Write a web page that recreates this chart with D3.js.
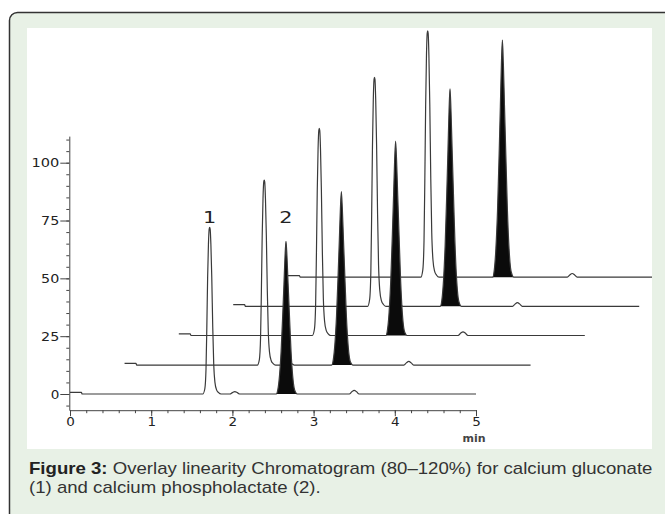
<html>
<head>
<title>Overlay linearity chromatogram</title>
<script src="https://d3js.org/d3.v7.min.js"></script>
<style>
	body { margin: 0; background: #fff; }
	.axis path, .axis line { stroke: #444; stroke-width: 1; }
	.axis text { font-family: "DejaVu Sans", Verdana, sans-serif; font-size: 12.5px; fill: #222; }
</style>
</head>
<body>
<svg id="chart" width="665" height="514"></svg>
<script>
// ---- data ----
const timeTicks = [0, 1, 2, 3, 4, 5];            // min
const valueTicks = [0, 25, 50, 75, 100];
const runLength = 5;                              // each run spans 0-5 min

// each overlaid run is shifted right / up
const traceShiftMin = [0, 0.672, 1.34, 2.01, 2.685];
const traceShiftVal = [0, 12.5, 25.3, 37.9, 50.5];

// peak 1 (calcium gluconate), open peak
const peak1Time = [1.72, 1.72, 1.73, 1.74, 1.72];
const peak1Height = [72, 80, 89.5, 99, 106.5];
// peak 2 (calcium phospholactate), filled peak
const peak2Time = [2.66, 2.67, 2.67, 2.67, 2.64];
const peak2Height = [66, 75, 84, 94, 102.5];

// peak outlines: [min from apex, fraction of apex height]
const peak1Shape = [[-0.085, 0], [-0.06, 0.03], [-0.045, 0.15], [-0.035, 0.4], [-0.025, 0.7],
	[-0.015, 0.9], [-0.006, 0.99], [0, 1], [0.006, 0.99], [0.015, 0.9], [0.026, 0.7],
	[0.038, 0.4], [0.05, 0.18], [0.065, 0.07], [0.085, 0.025], [0.11, 0.008], [0.14, 0]];
const peak2Shape = [[-0.12, 0], [-0.1, 0.03], [-0.08, 0.12], [-0.06, 0.28], [-0.04, 0.52],
	[-0.025, 0.72], [-0.012, 0.9], [0, 1], [0.012, 0.9], [0.026, 0.72], [0.042, 0.52],
	[0.062, 0.28], [0.082, 0.12], [0.1, 0.04], [0.12, 0.01], [0.14, 0]];

// small baseline blips
const bumpTime = [2.03, 3.5];
const bumpHeight = [1.0, 1.6];
const bumpShape = [[-0.06, 0], [-0.03, 0.6], [0, 1], [0.03, 0.6], [0.06, 0]];
// injection step at the start of each run
const startStep = [[0, 0.7], [0.14, 0.7], [0.15, 0]];

const peakLabels = ["1", "2"];
const captionBold = "Figure 3:";
const captionLine1 = " Overlay linearity Chromatogram (80\u2013120%) for calcium gluconate";
const captionLine2 = "(1) and calcium phospholactate (2).";

// ---- layout ----
const svg = d3.select("#chart");

svg.append("rect")
	.attr("x", 9.5).attr("y", 12.5)
	.attr("width", 720).attr("height", 560)
	.attr("rx", 8)
	.attr("fill", "#e8f1e6")
	.attr("stroke", "#333")
	.attr("stroke-width", 1.5);

svg.append("rect")
	.attr("x", 27).attr("y", 28)
	.attr("width", 625).attr("height", 421)
	.attr("fill", "#fff");

svg.append("clipPath").attr("id", "plotclip")
	.append("rect")
	.attr("x", 27).attr("y", 28)
	.attr("width", 625).attr("height", 421);

var x = d3.scaleLinear().domain([0, 5]).range([70, 476]);
var y = d3.scaleLinear().domain([0, 100]).range([394, 162.7]);

// build one run as [t, value] points
function buildTrace(i) {
	var pts = [];
	startStep.forEach(function(p) { pts.push([p[0], p[1]]); });
	var feats = [
		{ t: peak1Time[i], h: peak1Height[i], shape: peak1Shape },
		{ t: bumpTime[0], h: bumpHeight[0], shape: bumpShape },
		{ t: peak2Time[i], h: peak2Height[i], shape: peak2Shape },
		{ t: bumpTime[1], h: bumpHeight[1], shape: bumpShape }
	];
	feats.forEach(function(f) {
		f.shape.forEach(function(s) { pts.push([f.t + s[0], f.h * s[1]]); });
	});
	pts.push([runLength, 0]);
	return pts.map(function(p) { return [p[0] + traceShiftMin[i], p[1] + traceShiftVal[i]]; });
}

var line = d3.line()
	.x(function(d) { return x(d[0]); })
	.y(function(d) { return y(d[1]); })
	.curve(d3.curveMonotoneX);

var plot = svg.append("g").attr("clip-path", "url(#plotclip)");

// back runs first so the front ones sit on top
d3.range(traceShiftMin.length).reverse().forEach(function(i) {
	var base = traceShiftVal[i];
	var filled = peak2Shape.map(function(s) {
		return [peak2Time[i] + s[0] + traceShiftMin[i], base + peak2Height[i] * s[1]];
	});
	plot.append("path")
		.datum(filled)
		.attr("fill", "#0b0b0b")
		.attr("d", d3.area()
			.x(function(d) { return x(d[0]); })
			.y0(y(base))
			.y1(function(d) { return y(d[1]); })
			.curve(d3.curveMonotoneX));
	plot.append("path")
		.datum(buildTrace(i))
		.attr("fill", "none")
		.attr("stroke", "#3a3a3a")
		.attr("stroke-width", 1.2)
		.attr("d", line);
});

// ---- axes ----
var yAx = d3.scaleLinear().domain([-7, 111.5]).range([y(-7), y(111.5)]);

svg.append("g").attr("class", "axis")
	.attr("transform", "translate(69.3,0)")
	.call(d3.axisLeft(yAx).tickValues(d3.range(-5, 111, 5)).tickSize(3).tickSizeOuter(0).tickFormat(""));
var yMajor = svg.append("g").attr("class", "axis")
	.attr("transform", "translate(69.3,0)")
	.call(d3.axisLeft(yAx).tickValues(valueTicks).tickSize(9).tickPadding(1).tickSizeOuter(0)
		.tickFormat(d3.format("d")));
yMajor.select(".domain").remove();

var xAxisY = y(-7);
svg.append("g").attr("class", "axis")
	.attr("transform", "translate(0," + xAxisY + ")")
	.call(d3.axisBottom(x).tickValues(d3.range(0, 5.01, 0.2)).tickSize(3).tickSizeOuter(0).tickFormat(""));
var xMajor = svg.append("g").attr("class", "axis")
	.attr("transform", "translate(0," + xAxisY + ")")
	.call(d3.axisBottom(x).tickValues(timeTicks).tickSize(6).tickPadding(1).tickSizeOuter(0)
		.tickFormat(d3.format("d")));
xMajor.select(".domain").remove();

// the original digits are drawn wide
svg.selectAll(".axis text")
	.attr("textLength", function() { return this.textContent.length * 9.6 - 1; })
	.attr("lengthAdjust", "spacingAndGlyphs");

svg.append("text")
	.attr("x", x(5) - 2).attr("y", xAxisY + 32)
	.attr("text-anchor", "middle")
	.style("font-family", "DejaVu Sans, sans-serif")
	.style("font-size", "11px")
	.style("font-weight", "bold")
	.style("fill", "#444")
	.text("min");

// peak labels above the first run
[peak1Time[0], peak2Time[0]].forEach(function(t, k) {
	svg.append("text")
		.attr("transform", "translate(" + x(t) + "," + y(74) + ") scale(1.3,1)")
		.attr("text-anchor", "middle")
		.style("font-family", "DejaVu Sans, sans-serif")
		.style("font-size", "16px")
		.style("fill", "#222")
		.text(peakLabels[k]);
});

// ---- caption ----
var cap = svg.append("g");
var t1 = cap.append("text").attr("x", 0).attr("y", 0)
	.style("font-family", "'Liberation Sans', Arial, sans-serif")
	.style("font-size", "16px")
	.style("fill", "#333");
t1.append("tspan").style("font-weight", "bold").style("fill", "#222").text(captionBold);
t1.append("tspan").text(captionLine1);
cap.append("text").attr("x", 0).attr("y", 19)
	.style("font-family", "'Liberation Sans', Arial, sans-serif")
	.style("font-size", "16px")
	.style("fill", "#333")
	.text(captionLine2);
var natural = t1.node().getComputedTextLength();
cap.attr("transform", "translate(29,474) scale(" + (624 / natural) + ",1)");
</script>
</body>
</html>
